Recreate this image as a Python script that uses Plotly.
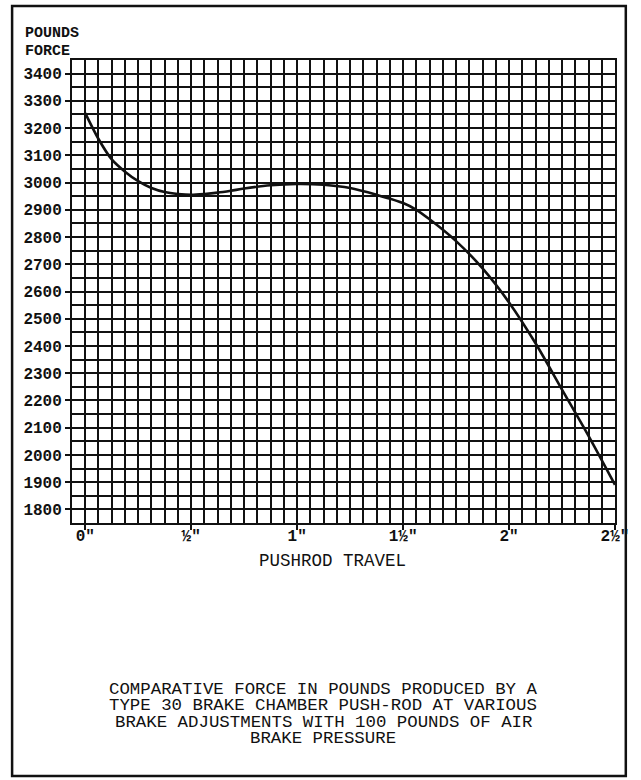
import plotly.graph_objects as go

# Pushrod travel (inches) and force (pounds)
travel = [0.0, 0.0625, 0.125, 0.1875, 0.25, 0.3125, 0.375, 0.4375, 0.5, 0.5625,
          0.625, 0.6875, 0.75, 0.875, 1.0, 1.125, 1.25, 1.375, 1.5, 1.5625,
          1.625, 1.75, 1.875, 2.0, 2.125, 2.25, 2.375, 2.5]
force = [3255, 3160, 3085, 3040, 3005, 2980, 2965, 2958, 2955, 2958,
         2963, 2970, 2978, 2990, 2995, 2992, 2980, 2955, 2925, 2900,
         2865, 2785, 2685, 2560, 2410, 2240, 2070, 1890]

x_tick_vals = [0, 0.5, 1.0, 1.5, 2.0, 2.5]
x_tick_text = ['0"', '½"', '1"', '1½"', '2"', '2½"']
y_tick_vals = list(range(1800, 3401, 100))
y_tick_text = [str(v) for v in y_tick_vals]

caption_lines = [
    "COMPARATIVE FORCE IN POUNDS PRODUCED BY A",
    "TYPE 30 BRAKE CHAMBER PUSH-ROD AT VARIOUS",
    "BRAKE ADJUSTMENTS WITH 100 POUNDS OF AIR",
    "BRAKE PRESSURE",
]

MONO = "Liberation Mono"
INK = "#111111"

fig = go.Figure()
fig.add_trace(go.Scatter(
    x=travel, y=force, mode="lines",
    line=dict(color=INK, width=2.6, shape="spline", smoothing=0.8),
    hoverinfo="skip", showlegend=False,
))

grid_style = dict(showgrid=True, gridcolor=INK, gridwidth=1.6)

fig.update_xaxes(
    range=[-0.0625, 2.5],
    tickmode="array", tickvals=x_tick_vals, ticktext=x_tick_text,
    ticks="outside", ticklen=5, tickwidth=1.5, tickcolor=INK,
    ticklabelstandoff=-8,
    showline=True, mirror=True, linecolor=INK, linewidth=2,
    zeroline=False,
    tickfont=dict(family=MONO, size=16, color=INK, weight="bold"),
    minor=dict(dtick=0.0625, tick0=0, showgrid=True, gridcolor=INK, gridwidth=1.6, ticks=""),
    **grid_style,
)
fig.update_yaxes(
    range=[1750, 3450],
    tickmode="array", tickvals=y_tick_vals, ticktext=y_tick_text,
    ticks="outside", ticklen=5, tickwidth=1.5, tickcolor=INK,
    showline=True, mirror=True, linecolor=INK, linewidth=2,
    zeroline=False,
    tickfont=dict(family=MONO, size=16, color=INK, weight="bold"),
    minor=dict(dtick=50, tick0=1750, showgrid=True, gridcolor=INK, gridwidth=1.6, ticks=""),
    **grid_style,
)

W, H = 641, 780
L, R, T, B = 72, 16, 60, 257
pw, ph = W - L - R, H - T - B

def px(xp):
    return (xp - L) / pw

def py(yp):
    return (H - B - yp) / ph

annotations = [
    dict(text="POUNDS", x=px(22), y=py(34), xanchor="left", yanchor="middle"),
    dict(text="FORCE", x=px(22), y=py(51), xanchor="left", yanchor="middle"),
]
for a in annotations:
    a.update(xref="paper", yref="paper", showarrow=False,
             font=dict(family=MONO, size=15, color=INK, weight="bold"))

annotations.append(dict(text="PUSHROD TRAVEL", x=px(337), y=py(561), xref="paper", yref="paper",
                        xanchor="center", yanchor="middle", showarrow=False,
                        font=dict(family=MONO, size=17.5, color=INK)))
for i, line in enumerate(caption_lines):
    annotations.append(dict(text=line, x=px(328), y=py(689 + i * 16.5), xref="paper", yref="paper",
                            xanchor="center", yanchor="middle", showarrow=False,
                            font=dict(family=MONO, size=17.4, color=INK)))

fig.update_layout(
    width=W, height=H,
    margin=dict(l=L, r=R, t=T, b=B),
    paper_bgcolor="white", plot_bgcolor="white",
    annotations=annotations,
    shapes=[dict(type="rect", xref="paper", yref="paper",
                 x0=px(11), x1=px(636), y0=py(776), y1=py(6),
                 line=dict(color=INK, width=2.5), fillcolor="rgba(0,0,0,0)", layer="below")],
    showlegend=False,
)

fig.write_html("out.html", config={"displayModeBar": False},
               post_script="document.body.style.margin='0';document.body.style.overflow='hidden';")
